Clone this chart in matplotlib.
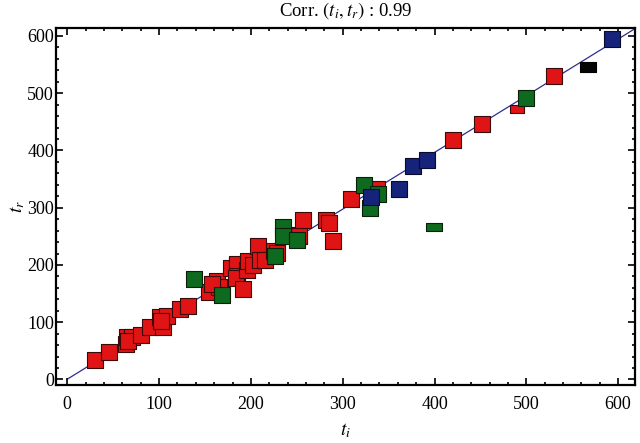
import numpy as np
import matplotlib
matplotlib.use("Agg")
import matplotlib.pyplot as plt
from matplotlib.ticker import MultipleLocator

plt.rcParams['font.family'] = ['Liberation Serif', 'DejaVu Serif']
plt.rcParams['mathtext.fontset'] = 'stix'

# red points (t_i, t_r)
red_x = [30.6, 44.9, 63.5, 64.9, 70.4, 66, 80.6, 89.7, 100.7, 104.3, 108.6, 102,
         123.3, 131, 154.3, 162.7, 165.6, 158, 178.7, 184.6, 185.3, 184.6, 183.8,
         195.5, 191.8, 196.9, 202, 208.2, 209.4, 215.5, 225.4, 228.6, 252, 252.4,
         256.8, 281.9, 284.8, 289.6, 308.5, 337, 420.1, 451.9, 530.3]
red_y = [33.2, 47.6, 62.3, 74.5, 74.5, 68, 76.8, 92.5, 109.4, 92, 110.5, 102,
         123.9, 127.9, 152.4, 171.6, 161.8, 166, 194.8, 200.7, 202.4, 180.3, 177.5,
         192, 158.3, 206.5, 200, 232.6, 208.3, 209.4, 224, 221.1, 253, 251.3,
         278, 278, 273.3, 242.6, 315.4, 333.3, 418.8, 446.8, 529.3]
red_flat_x = [490.2]
red_flat_y = [473]

green_x = [138.2, 168.2, 226.6, 235.5, 235.5, 250.2, 323.1, 338.4, 329.6, 499.2]
green_y = [175.7, 147.1, 215.3, 266.5, 250.8, 243.1, 339.3, 324, 299.5, 490.9]
green_flat_x = [399.7]
green_flat_y = [266.5]

blue_x = [330.7, 361.8, 377.1, 391.7, 593.5]
blue_y = [318.1, 333.3, 372.3, 383.9, 594.8]

black_flat_x = [567.5]
black_flat_y = [545]

fit_slope = 0.99
fit_intercept = 0.5
fit_range = [0, 618]
corr = 0.99

fig = plt.figure(figsize=(6.4, 4.43), dpi=100)
ax = fig.add_axes([0.0875, 0.131, 0.9047, 0.806])

lx = np.array(fit_range)
ax.plot(lx, fit_slope * lx + fit_intercept, color='#2e2e8c', lw=0.9, zorder=1)

flat = [(-1, -0.55), (1, -0.55), (1, 0.55), (-1, 0.55), (-1, -0.55)]
kw = dict(marker='s', s=140, linewidths=0.8, zorder=2)
ax.scatter(red_x, red_y, c='#e01414', edgecolors='#3a0a0a', **kw)
ax.scatter(red_flat_x, red_flat_y, c='#e01414', edgecolors='#3a0a0a', marker=flat, s=110, linewidths=0.8, zorder=2)
ax.scatter(green_x, green_y, c='#0e6a1e', edgecolors='#0a200a', **kw)
ax.scatter(green_flat_x, green_flat_y, c='#0e6a1e', edgecolors='#0a200a', marker=flat, s=120, linewidths=0.8, zorder=2)
ax.scatter(blue_x, blue_y, c='#16237a', edgecolors='#0a0a2a', **kw)
ax.scatter(black_flat_x, black_flat_y, c='#050505', edgecolors='#000000', marker=flat, s=140, linewidths=0.8, zorder=2)

ax.set_xlim(-12.3, 618.4)
ax.set_ylim(-9.6, 614)
ax.xaxis.set_major_locator(MultipleLocator(100))
ax.xaxis.set_minor_locator(MultipleLocator(20))
ax.yaxis.set_major_locator(MultipleLocator(100))
ax.yaxis.set_minor_locator(MultipleLocator(20))
ax.tick_params(which='both', direction='in', top=True, right=True, labelsize=13, width=1.2)
ax.tick_params(which='major', length=5)
ax.tick_params(which='minor', length=2.5)
ax.tick_params(axis='x', which='major', pad=8)
ax.tick_params(axis='y', which='major', pad=1.5)
for sp in ax.spines.values():
    sp.set_linewidth(1.6)

ax.set_xlabel('$t_i$', fontsize=14, labelpad=6)
ax.set_ylabel('$t_r$', fontsize=14, labelpad=0)
ax.set_title('Corr. $(t_i,t_r)$ : %.2f' % corr, fontsize=13.5, pad=9)

fig.savefig('out.png', dpi=100)
